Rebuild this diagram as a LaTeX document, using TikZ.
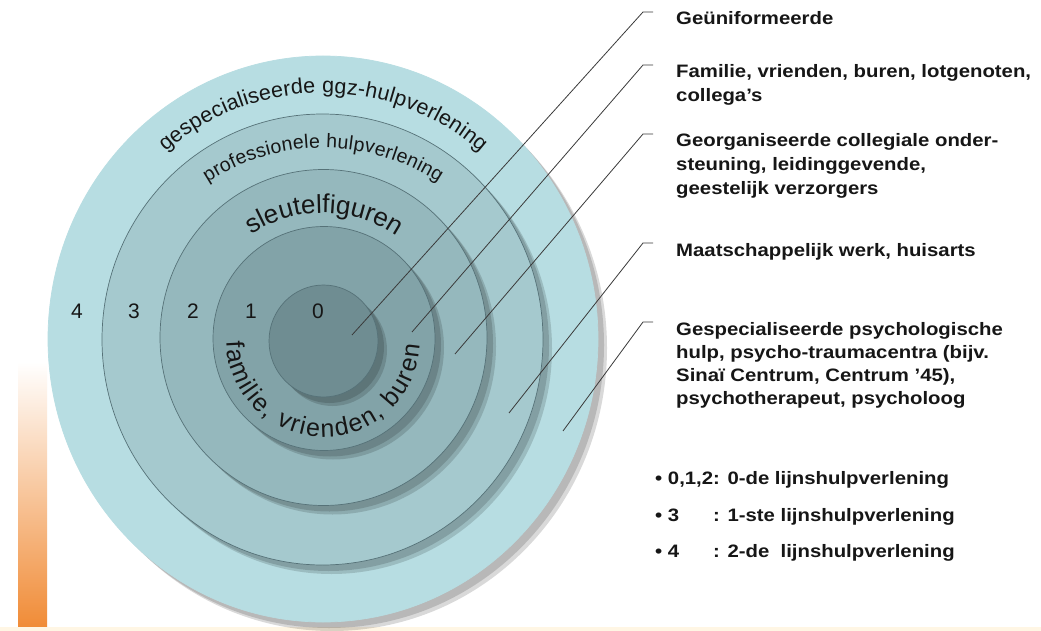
\documentclass[tikz,border=0pt]{standalone}
\usepackage{fontspec}
\setmainfont{Liberation Sans}
\newfontfamily\rtfont[FakeStretch=1.13]{Liberation Sans}
\usetikzlibrary{decorations.text}
\definecolor{rfour}{RGB}{183,221,226}
\definecolor{rthree}{RGB}{165,201,206}
\definecolor{rtwo}{RGB}{149,184,189}
\definecolor{rone}{RGB}{130,163,168}
\definecolor{rzero}{RGB}{111,141,146}
\definecolor{rline}{RGB}{86,114,120}
\definecolor{ldrcol}{RGB}{58,58,58}
\definecolor{txtcol}{RGB}{22,22,22}
\definecolor{orbar}{RGB}{240,138,52}
\definecolor{orbarm}{RGB}{247,196,150}
\definecolor{cream}{RGB}{255,246,228}
\newcommand\fGesp{\fontsize{21.5}{21.5}\selectfont}
\newcommand\fProf{\fontsize{19.5}{19.5}\selectfont}
\newcommand\fSleu{\fontsize{26}{26}\selectfont}
\newcommand\fFam{\fontsize{25}{25}\selectfont}
\newcommand\mkring[6]{%
  \fill[black,opacity=0.15,shift={(9,-9)}] (#1,#2) ellipse [x radius=#3, y radius=#4];
  \fill[black,opacity=0.15,shift={(6,-6)}] (#1,#2) ellipse [x radius=#3, y radius=#4];
  \fill[#5,draw=#6,line width=0.7] (#1,#2) ellipse [x radius=#3, y radius=#4];}
\tikzset{
  numtxt/.style={font=\fontsize{21}{21}\selectfont, text=txtcol, inner sep=0pt, anchor=base},
  rtxt/.style={font=\rtfont\bfseries\fontsize{18}{22}\selectfont, text=txtcol, inner sep=0pt, anchor=base west},
  ldr/.style={draw=ldrcol, line width=0.8},
}
\begin{document}
\begin{tikzpicture}[x=1pt,y=1pt]
\path[use as bounding box, fill=white] (0,0) rectangle (1041,-631);
% decorative orange bar and bottom strip
\shade[top color=white, middle color=orbarm, bottom color=orbar] (18,-362) rectangle (47,-631);
\fill[cream] (0,-627) rectangle (1041,-631);
% rings
\mkring{323}{-339}{275}{283}{rfour}{rfour}
\mkring{322.5}{-339.5}{220.5}{225.5}{rthree}{rline}
\mkring{323.5}{-337.5}{163.5}{168}{rtwo}{rline}
\mkring{324}{-338.5}{111}{112}{rone}{rline}
\mkring{323.5}{-341}{54.5}{56}{rzero}{rline}
% curved labels
\path (323,-333) ++(131:240) coordinate (gs);
\path[decorate, decoration={text along path, text align={fit to path}, text color=txtcol,
  text={|\fGesp|gespecialiseerde ggz-hulpverlening}}]
  (gs) arc[start angle=131, end angle=49, radius=240];
\path (323,-360) ++(123:212) coordinate (ps);
\path[decorate, decoration={text along path, text align={fit to path}, text color=txtcol,
  text={|\fProf|professionele hulpverlening}}]
  (ps) arc[start angle=123, end angle=57, radius=212];
\path (323,-345) ++(123:132) coordinate (ss);
\path[decorate, decoration={text along path, text align={fit to path}, text color=txtcol,
  text={|\fSleu|sleutelfiguren}}]
  (ss) arc[start angle=123, end angle=57, radius=132];
\path (323.5,-340) ++(181:97) coordinate (fs);
\path[decorate, decoration={text along path, text align={fit to path}, text color=txtcol,
  text={|\fFam|familie, vrienden, buren}}]
  (fs) arc[start angle=181, end angle=357, radius=97];
% ring numbers
\node[numtxt] (n4) at (77,-318) {4};
\node[numtxt] (n3) at (134,-318) {3};
\node[numtxt] (n2) at (193,-318) {2};
\node[numtxt] (n1) at (251,-318) {1};
\node[numtxt] (n0) at (318,-318) {0};
% right-hand texts
\node[rtxt] (t1) at (676,-25) {Geüniformeerde};
\node[rtxt] (t2a) at (676,-78) {Familie, vrienden, buren, lotgenoten,};
\node[rtxt] (t2b) at (676,-101.5) {collega’s};
\node[rtxt] (t3a) at (676,-147) {Georganiseerde collegiale onder-};
\node[rtxt] (t3b) at (676,-171) {steuning, leidinggevende,};
\node[rtxt] (t3c) at (676,-195) {geestelijk verzorgers};
\node[rtxt] (t4) at (676,-256) {Maatschappelijk werk, huisarts};
\node[rtxt] (t5a) at (676,-335) {Gespecialiseerde psychologische};
\node[rtxt] (t5b) at (676,-358) {hulp, psycho-traumacentra (bijv.};
\node[rtxt] (t5c) at (676,-381) {Sinaï Centrum, Centrum ’45),};
\node[rtxt] (t5d) at (676,-404) {psychotherapeut, psycholoog};
% bullet list
\node[rtxt] (u1) at (655,-484) {• 0,1,2: 0-de lijnshulpverlening};
\node[rtxt] (u2) at (655,-521) {• 3};
\node[rtxt] (u2c) at (713,-521) {: 1-ste lijnshulpverlening};
\node[rtxt] (u3) at (655,-557) {• 4};
\node[rtxt] (u3c) at (713,-557) {: 2-de~ lijnshulpverlening};
% leader lines
\coordinate (p1) at (352,-335);
\coordinate (p2) at (412,-332);
\coordinate (p3) at (455,-354);
\coordinate (p4) at (509,-413);
\coordinate (p5) at (563,-431);
\coordinate (b1) at (643,-12);
\coordinate (b2) at (643,-65);
\coordinate (b3) at (643,-134);
\coordinate (b4) at (643,-243);
\coordinate (b5) at (643,-322);
\coordinate (s1) at (653,-12);
\coordinate (s2) at (653,-65);
\coordinate (s3) at (653,-134);
\coordinate (s4) at (653,-243);
\coordinate (s5) at (653,-322);
\draw[ldr] (p1) -- (b1) -- (s1);
\draw[ldr] (p2) -- (b2) -- (s2);
\draw[ldr] (p3) -- (b3) -- (s3);
\draw[ldr] (p4) -- (b4) -- (s4);
\draw[ldr] (p5) -- (b5) -- (s5);
\end{tikzpicture}
\end{document}
